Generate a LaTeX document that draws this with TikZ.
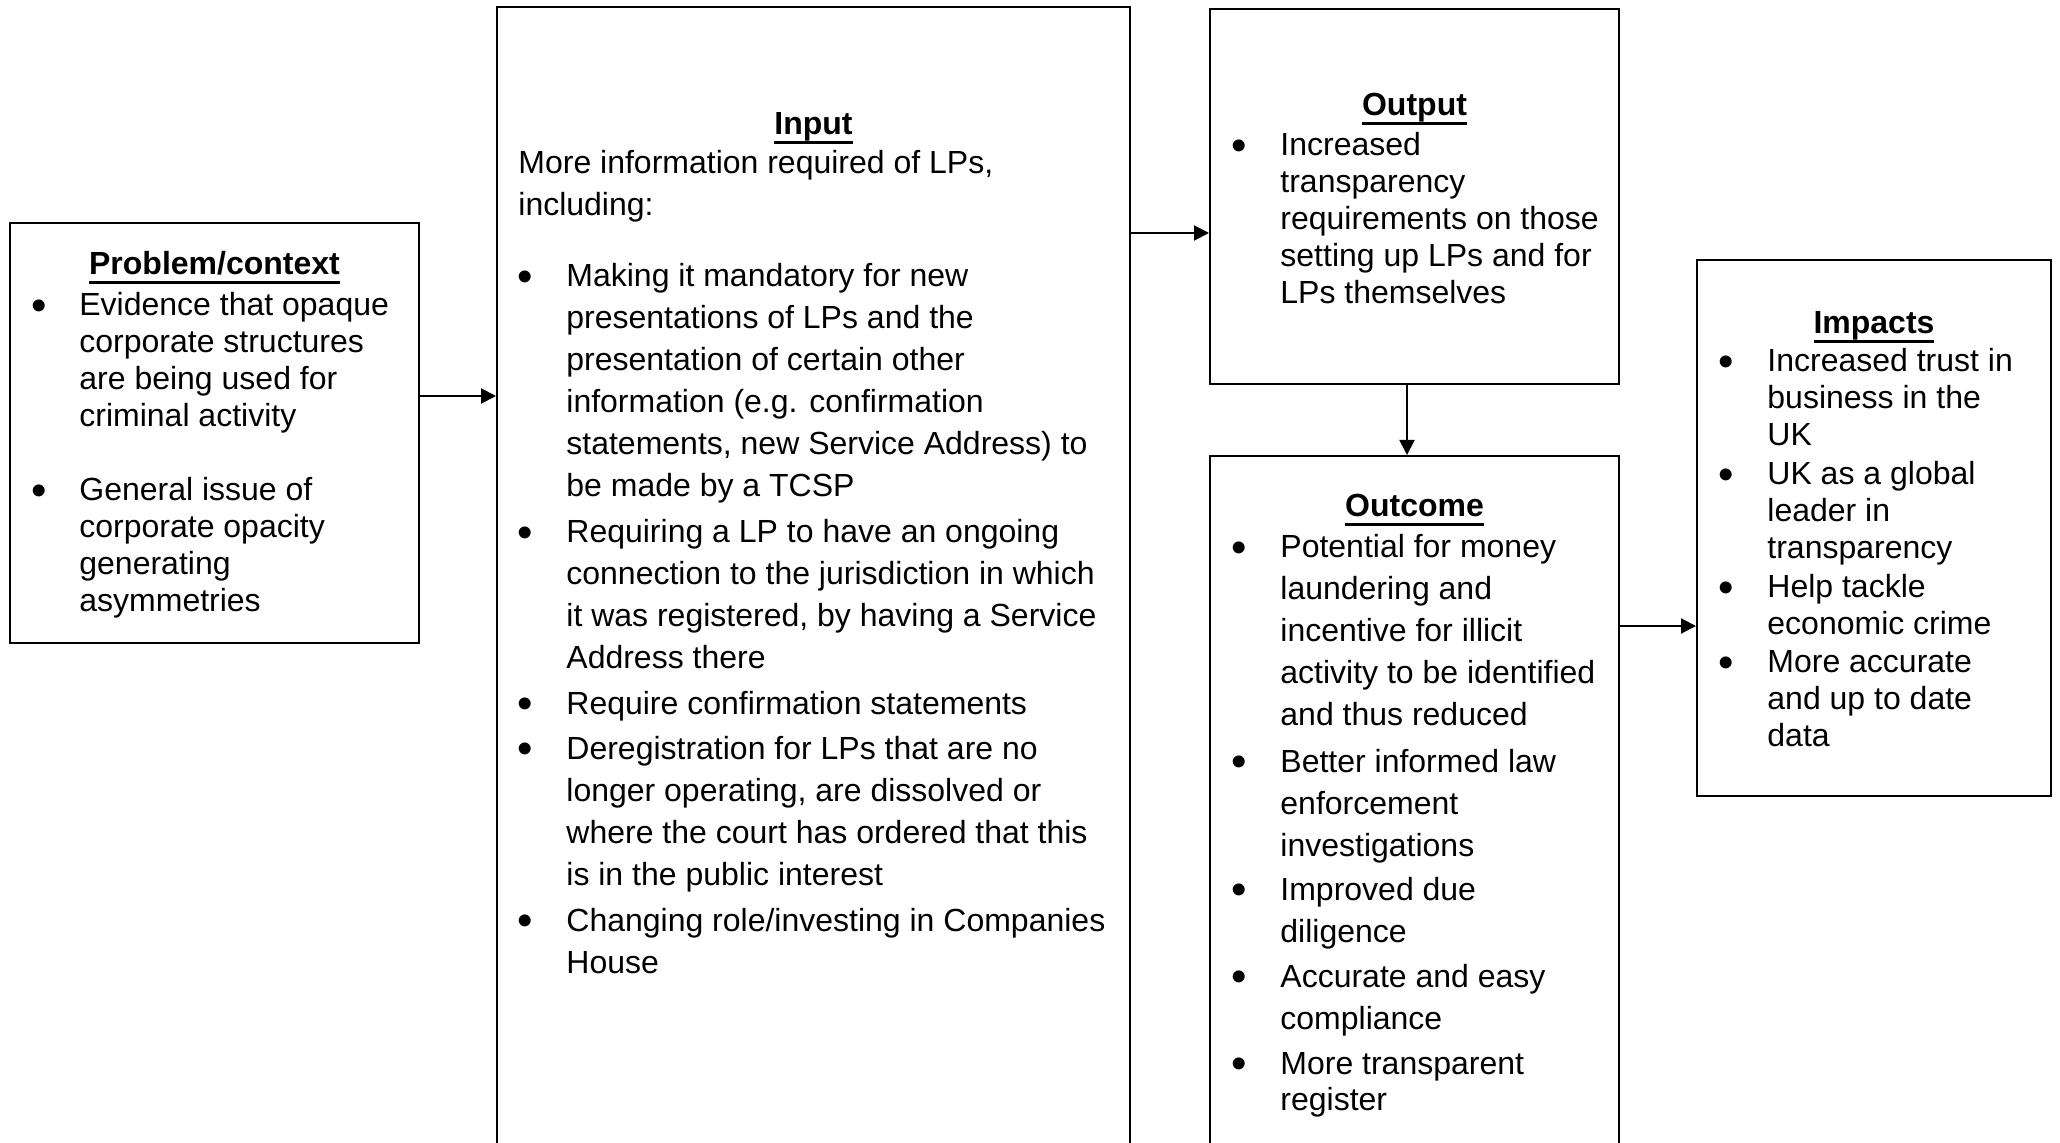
\documentclass[tikz,border=0pt]{standalone}
\usepackage{fontspec}
\setmainfont{Liberation Sans}
\usetikzlibrary{arrows.meta}
\newcommand\mylines[1]{\begin{tabular}[t]{@{}l@{}}#1\end{tabular}}
\newcommand\myul[1]{\setbox0\hbox{#1}\rlap{\rule[-4.3pt]{\wd0}{1.3pt}}\box0}
\begin{document}
\begin{tikzpicture}[x=0.5pt,y=-0.5pt,
 box/.style={draw, line width=1pt, rectangle, inner sep=0},
 arr/.style={line width=1pt, -{Triangle[length=7.5pt,width=7.5pt]}},
 tn/.style={anchor=base west, inner sep=0, font=\fontsize{16}{18.4}\selectfont},
 tw/.style={anchor=base west, inner sep=0, font=\fontsize{16}{21}\selectfont},
 bul/.style={anchor=center, inner sep=0, yshift=2.85pt, font=\fontsize{22}{24}\selectfont},
 ttl/.style={anchor=base, inner sep=0, font=\fontsize{16}{18.4}\selectfont\bfseries}]
\useasboundingbox (0,0) rectangle (2060,1143);
\clip (0,0) rectangle (2060,1143);
% boxes
\node[box, minimum width=204.5pt, minimum height=210pt] (prob) at (214.5,433) {};
\node[box, minimum width=316.5pt, minimum height=581.5pt] (inp) at (813.5,588.5) {};
\node[box, minimum width=204.5pt, minimum height=187.5pt] (out) at (1414.5,196.5) {};
\node[box, minimum width=204.5pt, minimum height=357pt] (outc) at (1414.5,813) {};
\node[box, minimum width=177pt, minimum height=268pt] (imp) at (1874,528) {};
% arrows
\draw[arr] (prob.east |- 0,396) -- (inp.west |- 0,396);
\draw[arr] (inp.east |- 0,233) -- (out.west |- 0,233);
\draw[arr] (out.south -| 1407,0) -- (outc.north -| 1407,0);
\draw[arr] (outc.east |- 0,626) -- (imp.west |- 0,626);
% Problem/context
\node[ttl] (probt) at (214.5,275) {\myul{Problem/context}};
\node[bul] (pb1) at (39,316) {\textbullet};
\node[tn] (p1) at (79,316) {\mylines{Evidence that opaque\\corporate structures\\are being used for\\criminal activity}};
\node[bul] (pb2) at (39,501) {\textbullet};
\node[tn] (p2) at (79,501) {\mylines{General issue of\\corporate opacity\\generating\\asymmetries}};
% Input
\node[ttl] (inpt) at (813.5,135) {\myul{Input}};
\node[tw] (i0) at (518,174) {\mylines{More information required of LPs,\\including:}};
\node[bul] (ib1) at (525,287) {\textbullet};
\node[tw] (i1) at (566,287) {\mylines{Making it mandatory for new\\presentations of LPs and the\\presentation of certain other\\information (e.g. confirmation\\statements, new Service Address) to\\be made by a TCSP}};
\node[bul] (ib2) at (525,543) {\textbullet};
\node[tw] (i2) at (566,543) {\mylines{Requiring a LP to have an ongoing\\connection to the jurisdiction in which\\it was registered, by having a Service\\Address there}};
\node[bul] (ib3) at (525,714) {\textbullet};
\node[tw] (i3) at (566,714) {\mylines{Require confirmation statements}};
\node[bul] (ib4) at (525,759) {\textbullet};
\node[tw] (i4) at (566,759) {\mylines{Deregistration for LPs that are no\\longer operating, are dissolved or\\where the court has ordered that this\\is in the public interest}};
\node[bul] (ib5) at (525,931) {\textbullet};
\node[tw] (i5) at (566,931) {\mylines{Changing role/investing in Companies\\House}};
% Output
\node[ttl] (outt) at (1414.5,116) {\myul{Output}};
\node[bul] (ob1) at (1239,156) {\textbullet};
\node[tn] (o1) at (1280,156) {\mylines{Increased\\transparency\\requirements on those\\setting up LPs and for\\LPs themselves}};
% Outcome
\node[ttl] (outct) at (1414.5,517) {\myul{Outcome}};
\node[bul] (cb1) at (1239,558) {\textbullet};
\node[tw] (c1) at (1280,558) {\mylines{Potential for money\\laundering and\\incentive for illicit\\activity to be identified\\and thus reduced}};
\node[bul] (cb2) at (1239,772) {\textbullet};
\node[tw] (c2) at (1280,772) {\mylines{Better informed law\\enforcement\\investigations}};
\node[bul] (cb3) at (1239,900) {\textbullet};
\node[tw] (c3) at (1280,900) {\mylines{Improved due\\diligence}};
\node[bul] (cb4) at (1239,987) {\textbullet};
\node[tw] (c4) at (1280,987) {\mylines{Accurate and easy\\compliance}};
\node[bul] (cb5) at (1239,1074) {\textbullet};
\node[tn] (c5) at (1280,1074) {\mylines{More transparent\\register}};
% Impacts
\node[ttl] (impt) at (1874,334) {\myul{Impacts}};
\node[bul] (mb1) at (1726,372) {\textbullet};
\node[tn] (m1) at (1767,372) {\mylines{Increased trust in\\business in the\\UK}};
\node[bul] (mb2) at (1726,485) {\textbullet};
\node[tn] (m2) at (1767,485) {\mylines{UK as a global\\leader in\\transparency}};
\node[bul] (mb3) at (1726,598) {\textbullet};
\node[tn] (m3) at (1767,598) {\mylines{Help tackle\\economic crime}};
\node[bul] (mb4) at (1726,673) {\textbullet};
\node[tn] (m4) at (1767,673) {\mylines{More accurate\\and up to date\\data}};
\end{tikzpicture}
\end{document}
